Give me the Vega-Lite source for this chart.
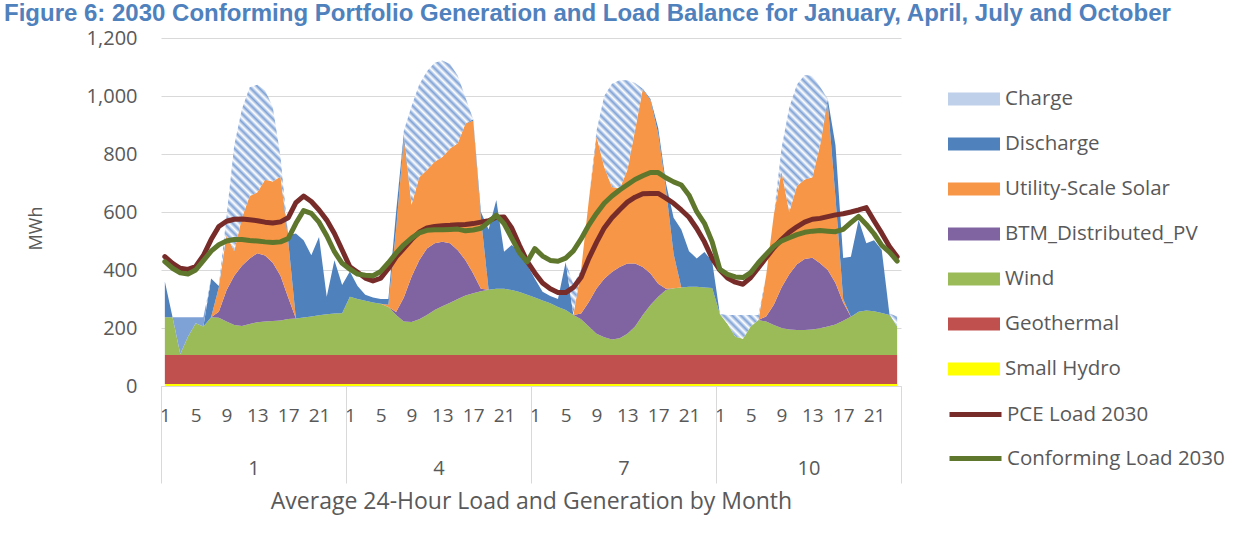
{
  "$schema": "https://vega.github.io/schema/vega-lite/v6.json",
  "width": 740,
  "height": 348,
  "autosize": {"type": "none"},
  "padding": {"left": 161, "top": 38, "right": 347, "bottom": 155},
  "background": "#ffffff",
  "config": {
    "view": {"stroke": null},
    "font": "Open Sans",
    "axis": {"labelFont": "Open Sans", "titleFont": "Open Sans", "labelColor": "#595959", "titleColor": "#595959", "gridColor": "#D9D9D9", "domainColor": "#D9D9D9", "tickColor": "#D9D9D9"},
    "legend": {"labelFont": "Open Sans", "labelColor": "#595959"}
  },
  "title": {
    "text": "Figure 6: 2030 Conforming Portfolio Generation and Load Balance for January, April, July and October",
    "anchor": "start", "frame": "group", "orient": "top", "offset": -17, "dx": -157,
    "baseline": "alphabetic", "font": "Liberation Sans", "fontSize": 24, "fontWeight": "bold", "color": "#4F81BD", "limit": 2000
  },
  "datasets": {
    "series": [
      {"key": "hy", "label": "Small Hydro", "rank": 1},
      {"key": "ge", "label": "Geothermal", "rank": 2},
      {"key": "wi", "label": "Wind", "rank": 3},
      {"key": "pv", "label": "BTM_Distributed_PV", "rank": 4},
      {"key": "so", "label": "Utility-Scale Solar", "rank": 5},
      {"key": "di", "label": "Discharge", "rank": 6},
      {"key": "ch", "label": "Charge", "rank": 7},
      {"key": "pce", "label": "PCE Load 2030", "rank": 8},
      {"key": "conf", "label": "Conforming Load 2030", "rank": 9}
    ],
    "hours": [
      {"i":0,"hy":7,"ge":100,"wi":130,"pv":0,"so":0,"di":123,"ch":0,"pce":446,"conf":429},
      {"i":1,"hy":7,"ge":100,"wi":130,"pv":0,"so":0,"di":0,"ch":0,"pce":423,"conf":406},
      {"i":2,"hy":7,"ge":100,"wi":3,"pv":0,"so":0,"di":0,"ch":127,"pce":406,"conf":390},
      {"i":3,"hy":7,"ge":100,"wi":63,"pv":0,"so":0,"di":0,"ch":67,"pce":402,"conf":386},
      {"i":4,"hy":7,"ge":100,"wi":109,"pv":0,"so":0,"di":0,"ch":21,"pce":412,"conf":400},
      {"i":5,"hy":7,"ge":100,"wi":98,"pv":0,"so":0,"di":0,"ch":32,"pce":450,"conf":432},
      {"i":6,"hy":7,"ge":100,"wi":130,"pv":0,"so":0,"di":134,"ch":0,"pce":505,"conf":465},
      {"i":7,"hy":7,"ge":100,"wi":128,"pv":21,"so":84,"di":5,"ch":0,"pce":550,"conf":487},
      {"i":8,"hy":7,"ge":100,"wi":115,"pv":108,"so":190,"di":0,"ch":65,"pce":568,"conf":500},
      {"i":9,"hy":7,"ge":100,"wi":103,"pv":170,"so":85,"di":0,"ch":365,"pce":575,"conf":505},
      {"i":10,"hy":7,"ge":100,"wi":100,"pv":208,"so":165,"di":0,"ch":375,"pce":576,"conf":505},
      {"i":11,"hy":7,"ge":100,"wi":107,"pv":226,"so":215,"di":0,"ch":375,"pce":573,"conf":502},
      {"i":12,"hy":7,"ge":100,"wi":113,"pv":238,"so":210,"di":0,"ch":371,"pce":570,"conf":500},
      {"i":13,"hy":7,"ge":100,"wi":115,"pv":228,"so":261,"di":0,"ch":309,"pce":565,"conf":497},
      {"i":14,"hy":7,"ge":100,"wi":117,"pv":201,"so":280,"di":0,"ch":257,"pce":562,"conf":495},
      {"i":15,"hy":7,"ge":100,"wi":119,"pv":154,"so":342,"di":0,"ch":69,"pce":566,"conf":497},
      {"i":16,"hy":7,"ge":100,"wi":124,"pv":74,"so":195,"di":20,"ch":0,"pce":580,"conf":508},
      {"i":17,"hy":7,"ge":100,"wi":126,"pv":0,"so":0,"di":293,"ch":0,"pce":632,"conf":561},
      {"i":18,"hy":7,"ge":100,"wi":129,"pv":0,"so":0,"di":267,"ch":0,"pce":655,"conf":605},
      {"i":19,"hy":7,"ge":100,"wi":133,"pv":0,"so":0,"di":211,"ch":0,"pce":636,"conf":595},
      {"i":20,"hy":7,"ge":100,"wi":137,"pv":0,"so":0,"di":270,"ch":0,"pce":607,"conf":565},
      {"i":21,"hy":7,"ge":100,"wi":140,"pv":0,"so":0,"di":61,"ch":0,"pce":572,"conf":518},
      {"i":22,"hy":7,"ge":100,"wi":143,"pv":0,"so":0,"di":184,"ch":0,"pce":526,"conf":463},
      {"i":23,"hy":7,"ge":100,"wi":144,"pv":0,"so":0,"di":97,"ch":0,"pce":469,"conf":423},
      {"i":24,"hy":7,"ge":100,"wi":201,"pv":0,"so":0,"di":87,"ch":0,"pce":411,"conf":403},
      {"i":25,"hy":7,"ge":100,"wi":193,"pv":0,"so":0,"di":45,"ch":0,"pce":392,"conf":386},
      {"i":26,"hy":7,"ge":100,"wi":187,"pv":0,"so":0,"di":21,"ch":0,"pce":372,"conf":382},
      {"i":27,"hy":7,"ge":100,"wi":181,"pv":0,"so":0,"di":17,"ch":0,"pce":362,"conf":380},
      {"i":28,"hy":7,"ge":100,"wi":177,"pv":0,"so":0,"di":16,"ch":0,"pce":372,"conf":395},
      {"i":29,"hy":7,"ge":100,"wi":165,"pv":0,"so":8,"di":20,"ch":0,"pce":405,"conf":425},
      {"i":30,"hy":7,"ge":100,"wi":138,"pv":10,"so":285,"di":60,"ch":0,"pce":445,"conf":458},
      {"i":31,"hy":7,"ge":100,"wi":115,"pv":83,"so":545,"di":20,"ch":10,"pce":475,"conf":487},
      {"i":32,"hy":7,"ge":100,"wi":114,"pv":156,"so":248,"di":0,"ch":340,"pce":505,"conf":510},
      {"i":33,"hy":7,"ge":100,"wi":123,"pv":204,"so":286,"di":0,"ch":320,"pce":530,"conf":528},
      {"i":34,"hy":7,"ge":100,"wi":138,"pv":229,"so":271,"di":0,"ch":340,"pce":545,"conf":537},
      {"i":35,"hy":7,"ge":100,"wi":155,"pv":230,"so":281,"di":0,"ch":342,"pce":550,"conf":539},
      {"i":36,"hy":7,"ge":100,"wi":168,"pv":222,"so":293,"di":0,"ch":332,"pce":553,"conf":539},
      {"i":37,"hy":7,"ge":100,"wi":180,"pv":205,"so":327,"di":0,"ch":291,"pce":554,"conf":540},
      {"i":38,"hy":7,"ge":100,"wi":193,"pv":168,"so":369,"di":0,"ch":233,"pce":556,"conf":541},
      {"i":39,"hy":7,"ge":100,"wi":205,"pv":122,"so":471,"di":0,"ch":90,"pce":557,"conf":535},
      {"i":40,"hy":7,"ge":100,"wi":213,"pv":68,"so":527,"di":5,"ch":0,"pce":560,"conf":538},
      {"i":41,"hy":7,"ge":100,"wi":220,"pv":8,"so":245,"di":20,"ch":0,"pce":565,"conf":544},
      {"i":42,"hy":7,"ge":100,"wi":225,"pv":0,"so":0,"di":208,"ch":0,"pce":570,"conf":565},
      {"i":43,"hy":7,"ge":100,"wi":228,"pv":0,"so":0,"di":306,"ch":0,"pce":582,"conf":589},
      {"i":44,"hy":7,"ge":100,"wi":228,"pv":0,"so":0,"di":128,"ch":0,"pce":583,"conf":560},
      {"i":45,"hy":7,"ge":100,"wi":224,"pv":0,"so":0,"di":155,"ch":0,"pce":545,"conf":510},
      {"i":46,"hy":7,"ge":100,"wi":217,"pv":0,"so":0,"di":139,"ch":0,"pce":485,"conf":460},
      {"i":47,"hy":7,"ge":100,"wi":208,"pv":0,"so":0,"di":102,"ch":0,"pce":430,"conf":428},
      {"i":48,"hy":7,"ge":100,"wi":198,"pv":0,"so":0,"di":65,"ch":0,"pce":390,"conf":474},
      {"i":49,"hy":7,"ge":100,"wi":188,"pv":0,"so":0,"di":30,"ch":0,"pce":355,"conf":448},
      {"i":50,"hy":7,"ge":100,"wi":178,"pv":0,"so":0,"di":25,"ch":0,"pce":335,"conf":433},
      {"i":51,"hy":7,"ge":100,"wi":165,"pv":0,"so":0,"di":28,"ch":0,"pce":322,"conf":430},
      {"i":52,"hy":7,"ge":100,"wi":155,"pv":0,"so":0,"di":166,"ch":0,"pce":322,"conf":441},
      {"i":53,"hy":7,"ge":100,"wi":138,"pv":0,"so":0,"di":0,"ch":105,"pce":340,"conf":466},
      {"i":54,"hy":7,"ge":100,"wi":123,"pv":20,"so":150,"di":0,"ch":0,"pce":375,"conf":507},
      {"i":55,"hy":7,"ge":100,"wi":98,"pv":85,"so":350,"di":0,"ch":0,"pce":440,"conf":555},
      {"i":56,"hy":7,"ge":100,"wi":73,"pv":156,"so":524,"di":0,"ch":20,"pce":495,"conf":595},
      {"i":57,"hy":7,"ge":100,"wi":61,"pv":202,"so":385,"di":0,"ch":245,"pce":545,"conf":630},
      {"i":58,"hy":7,"ge":100,"wi":53,"pv":233,"so":293,"di":0,"ch":356,"pce":580,"conf":655},
      {"i":59,"hy":7,"ge":100,"wi":58,"pv":245,"so":270,"di":0,"ch":374,"pce":608,"conf":676},
      {"i":60,"hy":7,"ge":100,"wi":73,"pv":242,"so":323,"di":0,"ch":309,"pce":634,"conf":694},
      {"i":61,"hy":7,"ge":100,"wi":98,"pv":217,"so":461,"di":0,"ch":162,"pce":651,"conf":712},
      {"i":62,"hy":7,"ge":100,"wi":138,"pv":165,"so":613,"di":2,"ch":0,"pce":663,"conf":725},
      {"i":63,"hy":7,"ge":100,"wi":172,"pv":109,"so":597,"di":5,"ch":0,"pce":664,"conf":736},
      {"i":64,"hy":7,"ge":100,"wi":201,"pv":45,"so":517,"di":20,"ch":0,"pce":664,"conf":736},
      {"i":65,"hy":7,"ge":100,"wi":224,"pv":4,"so":345,"di":20,"ch":0,"pce":648,"conf":718},
      {"i":66,"hy":7,"ge":100,"wi":230,"pv":0,"so":118,"di":125,"ch":0,"pce":630,"conf":704},
      {"i":67,"hy":7,"ge":100,"wi":233,"pv":0,"so":0,"di":200,"ch":0,"pce":607,"conf":693},
      {"i":68,"hy":7,"ge":100,"wi":235,"pv":0,"so":0,"di":123,"ch":0,"pce":582,"conf":658},
      {"i":69,"hy":7,"ge":100,"wi":235,"pv":0,"so":0,"di":98,"ch":0,"pce":543,"conf":601},
      {"i":70,"hy":7,"ge":100,"wi":233,"pv":0,"so":0,"di":122,"ch":0,"pce":497,"conf":561},
      {"i":71,"hy":7,"ge":100,"wi":231,"pv":0,"so":0,"di":92,"ch":0,"pce":440,"conf":497},
      {"i":72,"hy":7,"ge":100,"wi":141,"pv":0,"so":0,"di":0,"ch":0,"pce":400,"conf":402},
      {"i":73,"hy":7,"ge":100,"wi":107,"pv":0,"so":0,"di":0,"ch":31,"pce":372,"conf":385},
      {"i":74,"hy":7,"ge":100,"wi":63,"pv":0,"so":0,"di":0,"ch":75,"pce":358,"conf":376},
      {"i":75,"hy":7,"ge":100,"wi":56,"pv":0,"so":0,"di":0,"ch":82,"pce":351,"conf":374},
      {"i":76,"hy":7,"ge":100,"wi":98,"pv":0,"so":0,"di":0,"ch":40,"pce":374,"conf":391},
      {"i":77,"hy":7,"ge":100,"wi":121,"pv":0,"so":0,"di":0,"ch":17,"pce":408,"conf":425},
      {"i":78,"hy":7,"ge":100,"wi":115,"pv":18,"so":140,"di":0,"ch":0,"pce":442,"conf":454},
      {"i":79,"hy":7,"ge":100,"wi":103,"pv":70,"so":310,"di":0,"ch":0,"pce":477,"conf":482},
      {"i":80,"hy":7,"ge":100,"wi":93,"pv":140,"so":400,"di":0,"ch":80,"pce":505,"conf":500},
      {"i":81,"hy":7,"ge":100,"wi":88,"pv":190,"so":215,"di":0,"ch":360,"pce":530,"conf":511},
      {"i":82,"hy":7,"ge":100,"wi":86,"pv":227,"so":270,"di":0,"ch":350,"pce":549,"conf":522},
      {"i":83,"hy":7,"ge":100,"wi":86,"pv":245,"so":274,"di":0,"ch":360,"pce":565,"conf":530},
      {"i":84,"hy":7,"ge":100,"wi":88,"pv":247,"so":278,"di":0,"ch":350,"pce":575,"conf":534},
      {"i":85,"hy":7,"ge":100,"wi":92,"pv":224,"so":407,"di":0,"ch":202,"pce":578,"conf":536},
      {"i":86,"hy":7,"ge":100,"wi":98,"pv":195,"so":575,"di":15,"ch":0,"pce":584,"conf":534},
      {"i":87,"hy":7,"ge":100,"wi":105,"pv":143,"so":295,"di":180,"ch":0,"pce":590,"conf":532},
      {"i":88,"hy":7,"ge":100,"wi":118,"pv":63,"so":12,"di":141,"ch":0,"pce":594,"conf":540},
      {"i":89,"hy":7,"ge":100,"wi":132,"pv":0,"so":0,"di":207,"ch":0,"pce":600,"conf":563},
      {"i":90,"hy":7,"ge":100,"wi":149,"pv":0,"so":0,"di":316,"ch":0,"pce":607,"conf":585},
      {"i":91,"hy":7,"ge":100,"wi":153,"pv":0,"so":0,"di":232,"ch":0,"pce":615,"conf":557},
      {"i":92,"hy":7,"ge":100,"wi":151,"pv":0,"so":0,"di":245,"ch":0,"pce":570,"conf":525},
      {"i":93,"hy":7,"ge":100,"wi":145,"pv":0,"so":0,"di":217,"ch":0,"pce":527,"conf":485},
      {"i":94,"hy":7,"ge":100,"wi":138,"pv":0,"so":0,"di":3,"ch":2,"pce":481,"conf":462},
      {"i":95,"hy":7,"ge":100,"wi":98,"pv":0,"so":0,"di":0,"ch":35,"pce":446,"conf":431}
    ]
  },
  "data": {"name": "hours"},
  "layer": [
    {
      "transform": [
        {"fold": ["hy", "ge", "wi", "pv", "so", "di", "ch"], "as": ["key", "value"]},
        {"lookup": "key", "from": {"data": {"name": "series"}, "key": "key", "fields": ["label", "rank"]}},
        {"stack": "value", "groupby": ["i"], "sort": [{"field": "rank", "order": "ascending"}], "as": ["v0", "v1"]},
        {"filter": "datum.key != 'ch'"}
      ],
      "mark": {"type": "area", "interpolate": "linear"},
      "encoding": {
        "x": {
          "field": "i", "type": "quantitative",
          "scale": {"domain": [-0.5, 95.5], "nice": false, "zero": false},
          "axis": {
            "orient": "bottom", "values": [0, 4, 8, 12, 16, 20, 24, 28, 32, 36, 40, 44, 48, 52, 56, 60, 64, 68, 72, 76, 80, 84, 88, 92],
            "labelExpr": "datum.value % 24 + 1", "title": null, "grid": false, "ticks": false, "tickSize": 0,
            "domain": true, "domainColor": "#D9D9D9", "domainWidth": 1,
            "labelFontSize": 19, "labelPadding": 20, "labelFlush": false, "labelOverlap": false
          }
        },
        "y": {
          "field": "v1", "type": "quantitative", "title": "MWh",
          "scale": {"domain": [0, 1200], "nice": false},
          "axis": {
            "values": [0, 200, 400, 600, 800, 1000, 1200], "format": ",d", "grid": true, "gridColor": "#D9D9D9",
            "domain": false, "ticks": false, "tickSize": 0, "labelPadding": 24, "labelFontSize": 20,
            "titleFontSize": 18, "titleFontWeight": "normal", "titleX": -116, "titleY": 190
          }
        },
        "y2": {"field": "v0"},
        "color": {
          "field": "label", "type": "nominal",
          "scale": {
            "domain": ["Charge", "Discharge", "Utility-Scale Solar", "BTM_Distributed_PV", "Wind", "Geothermal", "Small Hydro"],
            "range": ["#BFD0EA", "#4F81BD", "#F79646", "#8064A2", "#9BBB59", "#C0504D", "#FFFF00"]
          },
          "legend": {
            "orient": "none", "legendX": 787, "legendY": 35, "title": null, "padding": 0,
            "symbolType": "M-1,-0.25H1V0.25H-1Z", "symbolSize": 2704, "symbolStrokeWidth": 0,
            "labelFontSize": 20.5, "labelColor": "#595959", "labelOffset": 5, "labelLimit": 400, "rowPadding": 8
          }
        }
      }
    },
    {
      "transform": [
        {"fold": ["hy", "ge", "wi", "pv", "so", "di", "ch"], "as": ["key", "value"]},
        {"lookup": "key", "from": {"data": {"name": "series"}, "key": "key", "fields": ["label", "rank"]}},
        {"stack": "value", "groupby": ["i"], "sort": [{"field": "rank", "order": "ascending"}], "as": ["v0", "v1"]},
        {"filter": "datum.key == 'ch'"}
      ],
      "mark": {
        "type": "area", "interpolate": "linear",
        "fill": {"gradient": "linear", "x1": 0, "y1": 0.7, "x2": 1, "y2": 0.3, "stops": [
          {"offset":0,"color":"#7fa2d6"},{"offset":0.005,"color":"#fff"},{"offset":0.01,"color":"#7fa2d6"},{"offset":0.015,"color":"#fff"},
          {"offset":0.02,"color":"#7fa2d6"},{"offset":0.025,"color":"#fff"},{"offset":0.03,"color":"#7fa2d6"},{"offset":0.035,"color":"#fff"},
          {"offset":0.04,"color":"#7fa2d6"},{"offset":0.045,"color":"#fff"},{"offset":0.05,"color":"#7fa2d6"},{"offset":0.055,"color":"#fff"},
          {"offset":0.06,"color":"#7fa2d6"},{"offset":0.065,"color":"#fff"},{"offset":0.07,"color":"#7fa2d6"},{"offset":0.075,"color":"#fff"},
          {"offset":0.08,"color":"#7fa2d6"},{"offset":0.085,"color":"#fff"},{"offset":0.09,"color":"#7fa2d6"},{"offset":0.095,"color":"#fff"},
          {"offset":0.1,"color":"#7fa2d6"},{"offset":0.105,"color":"#fff"},{"offset":0.11,"color":"#7fa2d6"},{"offset":0.115,"color":"#fff"},
          {"offset":0.12,"color":"#7fa2d6"},{"offset":0.125,"color":"#fff"},{"offset":0.13,"color":"#7fa2d6"},{"offset":0.135,"color":"#fff"},
          {"offset":0.14,"color":"#7fa2d6"},{"offset":0.145,"color":"#fff"},{"offset":0.15,"color":"#7fa2d6"},{"offset":0.155,"color":"#fff"},
          {"offset":0.16,"color":"#7fa2d6"},{"offset":0.165,"color":"#fff"},{"offset":0.17,"color":"#7fa2d6"},{"offset":0.175,"color":"#fff"},
          {"offset":0.18,"color":"#7fa2d6"},{"offset":0.185,"color":"#fff"},{"offset":0.19,"color":"#7fa2d6"},{"offset":0.195,"color":"#fff"},
          {"offset":0.2,"color":"#7fa2d6"},{"offset":0.205,"color":"#fff"},{"offset":0.21,"color":"#7fa2d6"},{"offset":0.215,"color":"#fff"},
          {"offset":0.22,"color":"#7fa2d6"},{"offset":0.225,"color":"#fff"},{"offset":0.23,"color":"#7fa2d6"},{"offset":0.235,"color":"#fff"},
          {"offset":0.24,"color":"#7fa2d6"},{"offset":0.245,"color":"#fff"},{"offset":0.25,"color":"#7fa2d6"},{"offset":0.255,"color":"#fff"},
          {"offset":0.26,"color":"#7fa2d6"},{"offset":0.265,"color":"#fff"},{"offset":0.27,"color":"#7fa2d6"},{"offset":0.275,"color":"#fff"},
          {"offset":0.28,"color":"#7fa2d6"},{"offset":0.285,"color":"#fff"},{"offset":0.29,"color":"#7fa2d6"},{"offset":0.295,"color":"#fff"},
          {"offset":0.3,"color":"#7fa2d6"},{"offset":0.305,"color":"#fff"},{"offset":0.31,"color":"#7fa2d6"},{"offset":0.315,"color":"#fff"},
          {"offset":0.32,"color":"#7fa2d6"},{"offset":0.325,"color":"#fff"},{"offset":0.33,"color":"#7fa2d6"},{"offset":0.335,"color":"#fff"},
          {"offset":0.34,"color":"#7fa2d6"},{"offset":0.345,"color":"#fff"},{"offset":0.35,"color":"#7fa2d6"},{"offset":0.355,"color":"#fff"},
          {"offset":0.36,"color":"#7fa2d6"},{"offset":0.365,"color":"#fff"},{"offset":0.37,"color":"#7fa2d6"},{"offset":0.375,"color":"#fff"},
          {"offset":0.38,"color":"#7fa2d6"},{"offset":0.385,"color":"#fff"},{"offset":0.39,"color":"#7fa2d6"},{"offset":0.395,"color":"#fff"},
          {"offset":0.4,"color":"#7fa2d6"},{"offset":0.405,"color":"#fff"},{"offset":0.41,"color":"#7fa2d6"},{"offset":0.415,"color":"#fff"},
          {"offset":0.42,"color":"#7fa2d6"},{"offset":0.425,"color":"#fff"},{"offset":0.43,"color":"#7fa2d6"},{"offset":0.435,"color":"#fff"},
          {"offset":0.44,"color":"#7fa2d6"},{"offset":0.445,"color":"#fff"},{"offset":0.45,"color":"#7fa2d6"},{"offset":0.455,"color":"#fff"},
          {"offset":0.46,"color":"#7fa2d6"},{"offset":0.465,"color":"#fff"},{"offset":0.47,"color":"#7fa2d6"},{"offset":0.475,"color":"#fff"},
          {"offset":0.48,"color":"#7fa2d6"},{"offset":0.485,"color":"#fff"},{"offset":0.49,"color":"#7fa2d6"},{"offset":0.495,"color":"#fff"},
          {"offset":0.5,"color":"#7fa2d6"},{"offset":0.505,"color":"#fff"},{"offset":0.51,"color":"#7fa2d6"},{"offset":0.515,"color":"#fff"},
          {"offset":0.52,"color":"#7fa2d6"},{"offset":0.525,"color":"#fff"},{"offset":0.53,"color":"#7fa2d6"},{"offset":0.535,"color":"#fff"},
          {"offset":0.54,"color":"#7fa2d6"},{"offset":0.545,"color":"#fff"},{"offset":0.55,"color":"#7fa2d6"},{"offset":0.555,"color":"#fff"},
          {"offset":0.56,"color":"#7fa2d6"},{"offset":0.565,"color":"#fff"},{"offset":0.57,"color":"#7fa2d6"},{"offset":0.575,"color":"#fff"},
          {"offset":0.58,"color":"#7fa2d6"},{"offset":0.585,"color":"#fff"},{"offset":0.59,"color":"#7fa2d6"},{"offset":0.595,"color":"#fff"},
          {"offset":0.6,"color":"#7fa2d6"},{"offset":0.605,"color":"#fff"},{"offset":0.61,"color":"#7fa2d6"},{"offset":0.615,"color":"#fff"},
          {"offset":0.62,"color":"#7fa2d6"},{"offset":0.625,"color":"#fff"},{"offset":0.63,"color":"#7fa2d6"},{"offset":0.635,"color":"#fff"},
          {"offset":0.64,"color":"#7fa2d6"},{"offset":0.645,"color":"#fff"},{"offset":0.65,"color":"#7fa2d6"},{"offset":0.655,"color":"#fff"},
          {"offset":0.66,"color":"#7fa2d6"},{"offset":0.665,"color":"#fff"},{"offset":0.67,"color":"#7fa2d6"},{"offset":0.675,"color":"#fff"},
          {"offset":0.68,"color":"#7fa2d6"},{"offset":0.685,"color":"#fff"},{"offset":0.69,"color":"#7fa2d6"},{"offset":0.695,"color":"#fff"},
          {"offset":0.7,"color":"#7fa2d6"},{"offset":0.705,"color":"#fff"},{"offset":0.71,"color":"#7fa2d6"},{"offset":0.715,"color":"#fff"},
          {"offset":0.72,"color":"#7fa2d6"},{"offset":0.725,"color":"#fff"},{"offset":0.73,"color":"#7fa2d6"},{"offset":0.735,"color":"#fff"},
          {"offset":0.74,"color":"#7fa2d6"},{"offset":0.745,"color":"#fff"},{"offset":0.75,"color":"#7fa2d6"},{"offset":0.755,"color":"#fff"},
          {"offset":0.76,"color":"#7fa2d6"},{"offset":0.765,"color":"#fff"},{"offset":0.77,"color":"#7fa2d6"},{"offset":0.775,"color":"#fff"},
          {"offset":0.78,"color":"#7fa2d6"},{"offset":0.785,"color":"#fff"},{"offset":0.79,"color":"#7fa2d6"},{"offset":0.795,"color":"#fff"},
          {"offset":0.8,"color":"#7fa2d6"},{"offset":0.805,"color":"#fff"},{"offset":0.81,"color":"#7fa2d6"},{"offset":0.815,"color":"#fff"},
          {"offset":0.82,"color":"#7fa2d6"},{"offset":0.825,"color":"#fff"},{"offset":0.83,"color":"#7fa2d6"},{"offset":0.835,"color":"#fff"},
          {"offset":0.84,"color":"#7fa2d6"},{"offset":0.845,"color":"#fff"},{"offset":0.85,"color":"#7fa2d6"},{"offset":0.855,"color":"#fff"},
          {"offset":0.86,"color":"#7fa2d6"},{"offset":0.865,"color":"#fff"},{"offset":0.87,"color":"#7fa2d6"},{"offset":0.875,"color":"#fff"},
          {"offset":0.88,"color":"#7fa2d6"},{"offset":0.885,"color":"#fff"},{"offset":0.89,"color":"#7fa2d6"},{"offset":0.895,"color":"#fff"},
          {"offset":0.9,"color":"#7fa2d6"},{"offset":0.905,"color":"#fff"},{"offset":0.91,"color":"#7fa2d6"},{"offset":0.915,"color":"#fff"},
          {"offset":0.92,"color":"#7fa2d6"},{"offset":0.925,"color":"#fff"},{"offset":0.93,"color":"#7fa2d6"},{"offset":0.935,"color":"#fff"},
          {"offset":0.94,"color":"#7fa2d6"},{"offset":0.945,"color":"#fff"},{"offset":0.95,"color":"#7fa2d6"},{"offset":0.955,"color":"#fff"},
          {"offset":0.96,"color":"#7fa2d6"},{"offset":0.965,"color":"#fff"},{"offset":0.97,"color":"#7fa2d6"},{"offset":0.975,"color":"#fff"},
          {"offset":0.98,"color":"#7fa2d6"},{"offset":0.985,"color":"#fff"},{"offset":0.99,"color":"#7fa2d6"},{"offset":0.995,"color":"#fff"},
          {"offset":1,"color":"#7fa2d6"}
        ]}
      },
      "encoding": {
        "x": {
          "field": "i", "type": "quantitative",
          "scale": {"domain": [-0.5, 95.5], "nice": false, "zero": false},
          "axis": {
            "orient": "bottom", "values": [-0.5, 23.5, 47.5, 71.5, 95.5], "labels": false, "ticks": true,
            "tickSize": 97, "tickColor": "#D9D9D9", "tickWidth": 1, "domain": false, "grid": false, "title": null
          }
        },
        "y": {"field": "v1", "type": "quantitative", "title": "MWh", "scale": {"domain": [0, 1200], "nice": false}},
        "y2": {"field": "v0"}
      }
    },
    {
      "transform": [
        {"fold": ["pce", "conf"], "as": ["key", "value"]},
        {"lookup": "key", "from": {"data": {"name": "series"}, "key": "key", "fields": ["label", "rank"]}}
      ],
      "mark": {"type": "line", "strokeWidth": 5, "strokeCap": "round", "strokeJoin": "round"},
      "encoding": {
        "x": {
          "field": "i", "type": "quantitative",
          "scale": {"domain": [-0.5, 95.5], "nice": false, "zero": false},
          "axis": {
            "orient": "bottom", "values": [11.5, 35.5, 59.5, 83.5],
            "labelExpr": "datum.value < 24 ? '1' : datum.value < 48 ? '4' : datum.value < 72 ? '7' : '10'",
            "ticks": false, "tickSize": 0, "domain": false, "grid": false, "labelPadding": 72, "labelFontSize": 20,
            "labelFlush": false, "title": "Average 24-Hour Load and Generation by Month", "titleFontSize": 23,
            "titleFontWeight": "normal", "titleY": 122, "titleBaseline": "alphabetic"
          }
        },
        "y": {"field": "value", "type": "quantitative", "title": "MWh", "scale": {"domain": [0, 1200], "nice": false}},
        "stroke": {
          "field": "label", "type": "nominal",
          "scale": {"domain": ["PCE Load 2030", "Conforming Load 2030"], "range": ["#772C2A", "#5E772D"]},
          "legend": {
            "orient": "none", "legendX": 786, "legendY": 348, "title": null, "padding": 0,
            "symbolType": "stroke", "symbolSize": 2704, "symbolStrokeWidth": 5,
            "labelFontSize": 20.5, "labelColor": "#595959", "labelOffset": 3, "labelLimit": 400, "rowPadding": 5
          }
        }
      }
    }
  ],
  "resolve": {"axis": {"x": "independent"}}
}
